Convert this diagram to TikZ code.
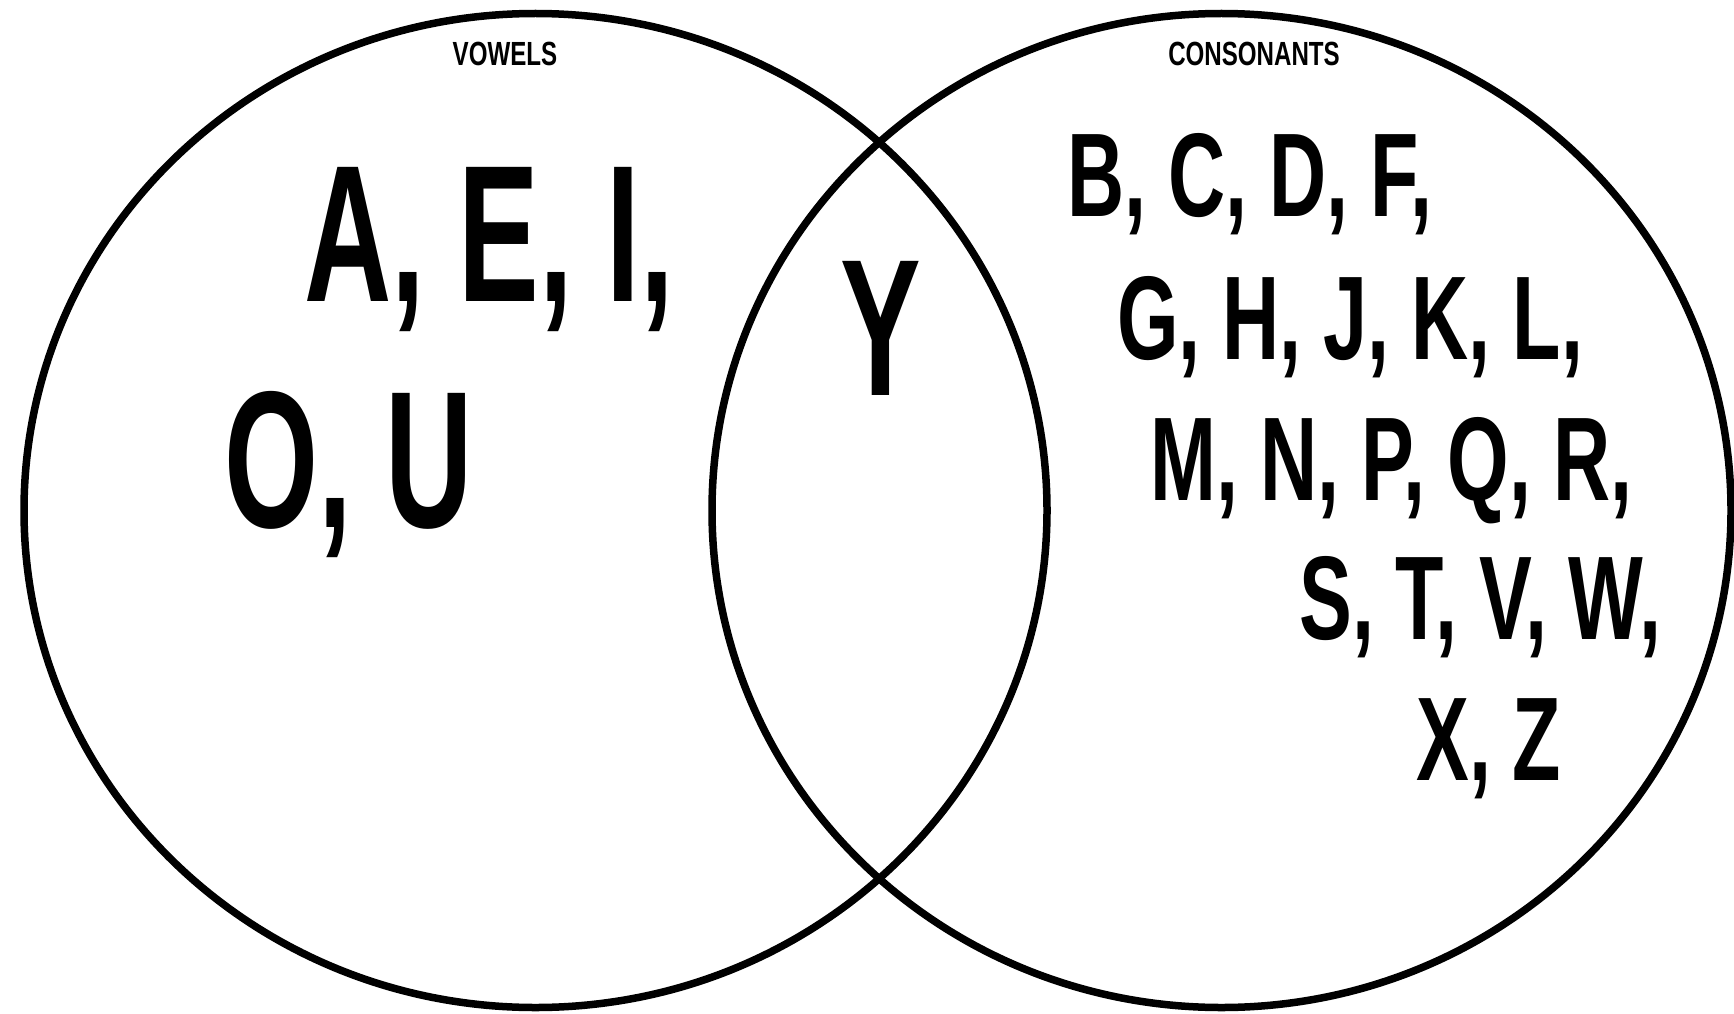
\documentclass[tikz,border=0pt]{standalone}
\usepackage{fontspec}
\newfontfamily\condfont[FakeStretch=0.62]{Liberation Sans Bold}
\newfontfamily\condfontb[FakeStretch=0.665]{Liberation Sans Bold}
\newfontfamily\labfont[FakeStretch=0.72]{Liberation Sans Bold}
\begin{document}
\begin{tikzpicture}[x=1pt,y=-1pt,
  ring/.style={line width=7.5pt,draw=black},
  big/.style={inner sep=0pt,anchor=base west,font=\condfont\fontsize{195}{195}\selectfont},
  mid/.style={inner sep=0pt,anchor=base west,font=\condfontb\fontsize{119}{119}\selectfont},
  lab/.style={inner sep=0pt,anchor=base,font=\labfont\fontsize{33.5}{33.5}\selectfont}]
\useasboundingbox (0,0) rectangle (1734,1014);
\fill[white] (0,0) rectangle (1734,1014);
\draw[ring] (535.5,510.5) ellipse [x radius=511.5pt, y radius=497pt];
\draw[ring] (1221.5,510.5) ellipse [x radius=509.5pt, y radius=497pt];
\node[lab] (vow) at (505,66) {VOWELS};
\node[lab] (con) at (1254,66) {CONSONANTS};
\node[big] (v1) at (304,301) {A, E, I,};
\node[big] (v2) at (224,527) {O, U};
\node[big] (y) at (840,395) {Y};
\node[mid] (c1) at (1067,216) {B, C, D, F,};
\node[mid] (c2) at (1117,359) {G, H, J, K, L,};
\node[mid] (c3) at (1150,500) {M, N, P, Q, R,};
\node[mid] (c4) at (1299,639) {S, T, V, W,};
\node[mid] (c5) at (1416,780) {X, Z};
\end{tikzpicture}
\end{document}
